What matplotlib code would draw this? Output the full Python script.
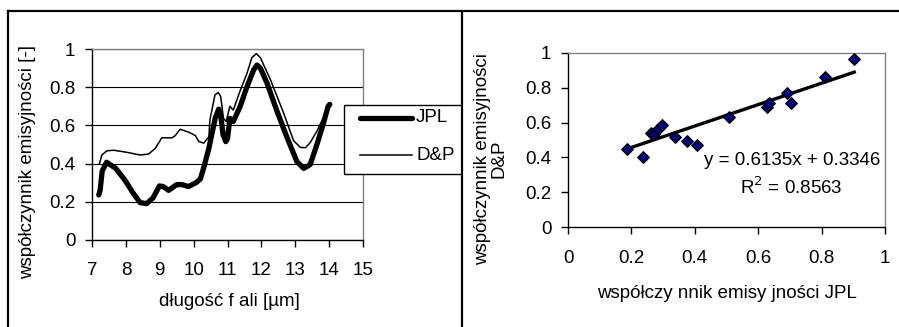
import matplotlib
matplotlib.use("Agg")
import matplotlib.pyplot as plt
from matplotlib.patches import Rectangle
from matplotlib.lines import Line2D

plt.rcParams['font.family'] = ['Liberation Sans', 'DejaVu Sans']

# ---- data: left chart (emissivity spectra) ----
jpl_wl = [7.20, 7.24, 7.30, 7.43, 7.70, 7.97, 8.22, 8.42, 8.61, 8.80, 8.99, 9.10, 9.26,
          9.50, 9.65, 9.85, 10.07, 10.20, 10.30, 10.45, 10.64, 10.74, 10.80, 10.87, 10.95,
          11.00, 11.07, 11.17, 11.37, 11.57, 11.77, 11.87, 11.97, 12.17, 12.45, 12.75,
          13.05, 13.25, 13.44, 13.64, 13.83, 13.97, 14.02]
jpl_em = [0.236, 0.26, 0.36, 0.407, 0.375, 0.314, 0.244, 0.196, 0.19, 0.22, 0.283, 0.28, 0.26,
          0.29, 0.29, 0.28, 0.30, 0.32, 0.38, 0.48, 0.64, 0.685, 0.65, 0.55, 0.515,
          0.53, 0.637, 0.62, 0.698, 0.80, 0.89, 0.916, 0.90, 0.82, 0.68, 0.54,
          0.41, 0.375, 0.395, 0.50, 0.61, 0.70, 0.71]

dp_wl = [7.22, 7.29, 7.44, 7.64, 8.03, 8.42, 8.67, 8.87, 9.06, 9.36, 9.46, 9.60, 9.85,
         10.05, 10.15, 10.30, 10.45, 10.48, 10.63, 10.73, 10.80, 10.88, 10.96, 11.07, 11.17,
         11.37, 11.57, 11.72, 11.85, 11.97, 12.27, 12.66, 12.95, 13.15, 13.30, 13.44, 13.64,
         13.83, 13.97]
dp_em = [0.40, 0.445, 0.467, 0.47, 0.459, 0.445, 0.45, 0.48, 0.535, 0.535, 0.547, 0.58, 0.565,
         0.547, 0.516, 0.507, 0.54, 0.628, 0.76, 0.772, 0.75, 0.637, 0.62, 0.70, 0.68,
         0.78, 0.87, 0.955, 0.976, 0.955, 0.838, 0.663, 0.52, 0.485, 0.483, 0.51, 0.57,
         0.64, 0.69]

series_names = ['JPL', 'D&P']

# ---- data: right chart (scatter JPL vs D&P) ----
sc_jpl = [0.187, 0.238, 0.263, 0.272, 0.283, 0.296, 0.338, 0.375, 0.407, 0.509,
          0.627, 0.635, 0.690, 0.703, 0.811, 0.903]
sc_dp = [0.449, 0.405, 0.540, 0.535, 0.563, 0.588, 0.517, 0.496, 0.471, 0.630,
         0.689, 0.712, 0.771, 0.712, 0.863, 0.964]
slope, intercept, r2 = 0.6135, 0.3346, 0.8563

left_xticks = [7, 8, 9, 10, 11, 12, 13, 14, 15]
yticks = [0, 0.2, 0.4, 0.6, 0.8, 1]
right_xticks = [0, 0.2, 0.4, 0.6, 0.8, 1]

W, H = 899, 327
fig = plt.figure(figsize=(W / 100, H / 100), dpi=100)

def fx(px):
    return px / W

def fy(py):
    return 1 - py / H

FS = 13.5
GRAY = '#808080'

# ---- left axes ----
axL = fig.add_axes([fx(92), fy(240), fx(363) - fx(92), fy(49) - fy(240)])
axL.plot(dp_wl, dp_em, color='black', lw=1.1, zorder=3)
axL.plot(jpl_wl, jpl_em, color='black', lw=3.8, solid_capstyle='round',
         solid_joinstyle='round', zorder=4)
axL.set_xlim(7, 15)
axL.set_ylim(0, 1)
axL.set_xticks(left_xticks)
axL.set_xticklabels([str(t) for t in left_xticks])
axL.set_yticks(yticks)
axL.set_yticklabels(['0', '0.2', '0.4', '0.6', '0.8', '1'])
axL.yaxis.grid(True, color='black', lw=0.8)
axL.set_axisbelow(True)
for s in ['top', 'right']:
    axL.spines[s].set_color(GRAY)
    axL.spines[s].set_linewidth(1.0)
for s in ['left', 'bottom']:
    axL.spines[s].set_color('black')
    axL.spines[s].set_linewidth(1.0)
axL.tick_params(direction='out', length=5, width=1, labelsize=FS, pad=11)
axL.tick_params(axis='y', pad=7)
fig.text(fx(229), fy(302), 'długość f ali [µm]', ha='center', va='center', fontsize=FS)
fig.text(fx(28), fy(162), 'współczynnik emisyjności [-]', ha='center', va='center',
         rotation=90, fontsize=FS)

# ---- right axes ----
axR = fig.add_axes([fx(568), fy(227.3), fx(885) - fx(568), fy(52.7) - fy(227.3)])
xl = [min(sc_jpl), max(sc_jpl)]
axR.plot(xl, [slope * v + intercept for v in xl], color='black', lw=2.4, zorder=3)
axR.scatter(sc_jpl, sc_dp, marker='D', s=34, facecolor='#000080', edgecolor='black',
            linewidth=1.0, zorder=4)
axR.set_xlim(0, 1)
axR.set_ylim(0, 1)
axR.set_xticks(right_xticks)
axR.set_xticklabels(['0', '0.2', '0.4', '0.6', '0.8', '1'])
axR.set_yticks(yticks)
axR.set_yticklabels(['0', '0.2', '0.4', '0.6', '0.8', '1'])
for s in ['top', 'right']:
    axR.spines[s].set_color(GRAY)
    axR.spines[s].set_linewidth(1.0)
for s in ['left', 'bottom']:
    axR.spines[s].set_color('black')
    axR.spines[s].set_linewidth(1.0)
axR.tick_params(direction='out', length=5, width=1, labelsize=FS, pad=11)
axR.tick_params(axis='y', pad=7)
axR.text(0.984, 0.385, f'y = {slope:.4f}x + {intercept:.4f}', transform=axR.transAxes,
         ha='right', va='center', fontsize=FS)
axR.text(0.705, 0.231, f'R$^2$ = {r2:.4f}', transform=axR.transAxes,
         ha='center', va='center', fontsize=FS)
fig.text(fx(727), fy(293), 'współczy nnik emisy jności JPL', ha='center', va='center',
         fontsize=FS)
fig.text(fx(491), fy(159), 'współczynnik emisyjności\nD&P', ha='center', va='center',
         rotation=90, fontsize=FS, linespacing=0.92, multialignment='center')

# ---- legend box (left chart) ----
fig.add_artist(Rectangle((fx(344), fy(174)), fx(470) - fx(344), fy(105) - fy(174),
                         transform=fig.transFigure, facecolor='white', edgecolor='black',
                         lw=1.0, zorder=5))
fig.add_artist(Line2D([fx(360), fx(412)], [fy(118), fy(118)], transform=fig.transFigure,
                      color='black', lw=3.8, solid_capstyle='round', zorder=6))
fig.add_artist(Line2D([fx(360), fx(412)], [fy(155), fy(155)], transform=fig.transFigure,
                      color='black', lw=1.1, zorder=6))
fig.text(fx(416), fy(118), series_names[0], ha='left', va='center', fontsize=FS, zorder=7)
fig.text(fx(416), fy(155), series_names[1], ha='left', va='center', fontsize=FS, zorder=7)

# ---- outer frame and divider ----
fig.add_artist(Rectangle((fx(462), 0), 1 - fx(462), 1, transform=fig.transFigure,
                         facecolor='white', edgecolor='none', zorder=8))
fig.add_artist(Line2D([fx(8), fx(8)], [0, fy(11)], transform=fig.transFigure,
                      color='black', lw=1.6, zorder=10))
fig.add_artist(Line2D([fx(8), 1], [fy(11), fy(11)], transform=fig.transFigure,
                      color='black', lw=1.6, zorder=10))
fig.add_artist(Line2D([fx(462), fx(462)], [0, fy(11)], transform=fig.transFigure,
                      color='black', lw=1.6, zorder=10))
axR.set_zorder(9)
axR.patch.set_alpha(0)
for t in fig.texts:
    if t.get_position()[0] > fx(462):
        t.set_zorder(11)

fig.savefig('out.png', dpi=100)
